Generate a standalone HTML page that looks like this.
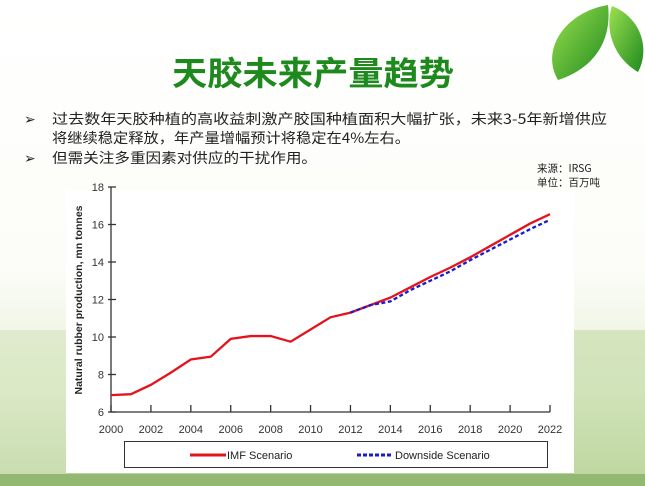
<!DOCTYPE html>
<html><head><meta charset="utf-8"><style>
body{margin:0;width:645px;height:486px;overflow:hidden;background:#fff;font-family:"Liberation Sans","Noto Sans CJK SC",sans-serif;}
</style></head><body>
<svg id="s" width="645" height="486" xmlns="http://www.w3.org/2000/svg" style="position:absolute;left:0;top:0">
<defs>
<linearGradient id="bg" x1="0" y1="0" x2="0" y2="1">
<stop offset="0" stop-color="#fff"/><stop offset="0.55" stop-color="#fcfdf8"/><stop offset="0.8" stop-color="#e6f0d6"/><stop offset="1" stop-color="#b3cf94"/></linearGradient>
<linearGradient id="lf" x1="0" y1="0" x2="1" y2="1"><stop offset="0" stop-color="#9be04f"/><stop offset="1" stop-color="#1e8a1e"/></linearGradient>
</defs>
<rect width="645" height="486" fill="url(#bg)"/>
<rect x="0" y="330" width="66" height="156" fill="#d3e4bd" opacity="0.6"/>
<rect x="574" y="330" width="71" height="156" fill="#c3dba5" opacity="0.6"/>
<rect x="0" y="474" width="645" height="12" fill="#93b872"/>
<path d="M558 80 C 540 50, 565 12, 608 5 C 612 40, 595 68, 558 80Z" fill="url(#lf)"/>
<path d="M612 6 C 642 18, 650 50, 638 72 C 614 58, 604 30, 612 6Z" fill="url(#lf)"/>
<text x="313" y="85" text-anchor="middle" font-size="33" font-weight="bold" fill="#1e8a1e" font-family="'Noto Sans CJK SC',sans-serif" textLength="282" lengthAdjust="spacingAndGlyphs">天胶未来产量趋势</text>
<g font-size="14" fill="#222" font-family="'Noto Sans CJK SC',sans-serif">
<text x="24" y="124">➢</text><text x="52" y="124" textLength="555" lengthAdjust="spacingAndGlyphs">过去数年天胶种植的高收益刺激产胶国种植面积大幅扩张，未来3-5年新增供应</text>
<text x="52" y="143" textLength="358" lengthAdjust="spacingAndGlyphs">将继续稳定释放，年产量增幅预计将稳定在4%左右。</text>
<text x="24" y="163">➢</text><text x="52" y="163" textLength="265" lengthAdjust="spacingAndGlyphs">但需关注多重因素对供应的干扰作用。</text>
</g>
<g font-size="10.5" fill="#222" font-family="'Noto Sans CJK SC',sans-serif">
<text x="537" y="172">来源：IRSG</text><text x="537" y="186">单位：百万吨</text>
</g>
<rect x="66" y="190" width="508" height="283" fill="#fff"/>
<g id="ax" stroke="#333" stroke-width="1.3" fill="none"></g>
<g id="lab" font-size="11" fill="#333"></g>
<text transform="translate(82,300) rotate(-90)" text-anchor="middle" font-size="10.5" font-weight="bold" fill="#222">Natural rubber production, mn tonnes</text>
<polyline id="imf" fill="none" stroke="#e3141c" stroke-width="2.3"/>
<polyline id="dn" fill="none" stroke="#1a1ad0" stroke-width="2.3" stroke-dasharray="4,2.5"/>
<rect x="124.5" y="441.5" width="423" height="26" fill="#fff" stroke="#333"/>
<line x1="190" y1="455" x2="226" y2="455" stroke="#e3141c" stroke-width="3"/>
<text x="227" y="459" font-size="11" fill="#222">IMF Scenario</text>
<line x1="357" y1="455" x2="393" y2="455" stroke="#1a1ad0" stroke-width="3" stroke-dasharray="4,2"/>
<text x="395" y="459" font-size="11" fill="#222">Downside Scenario</text>
</svg>
<script>
var X=y=>111+(y-2000)*439/22, Y=v=>412-(v-6)*18.75;
var ax=document.getElementById('ax'),lab=document.getElementById('lab'),ns='http://www.w3.org/2000/svg';
function el(p,t,a,txt){var e=document.createElementNS(ns,t);for(var k in a)e.setAttribute(k,a[k]);if(txt)e.textContent=txt;p.appendChild(e);}
el(ax,'line',{x1:111,y1:187,x2:111,y2:412});el(ax,'line',{x1:111,y1:412,x2:550,y2:412});
for(var v=6;v<=18;v+=2){el(ax,'line',{x1:108,y1:Y(v),x2:116,y2:Y(v)});el(lab,'text',{x:104,y:Y(v)+4,'text-anchor':'end'},v);}
for(var yr=2000;yr<=2022;yr+=2){el(ax,'line',{x1:X(yr),y1:405,x2:X(yr),y2:412});el(lab,'text',{x:X(yr),y:433,'text-anchor':'middle'},yr);}
var imf=[6.9,6.95,7.45,8.1,8.8,8.95,9.9,10.05,10.05,9.75,10.4,11.05,11.3,11.7,12.1,12.65,13.2,13.7,14.25,14.85,15.45,16.05,16.55];
var dn=[11.3,11.7,11.9,12.5,13.0,13.5,14.1,14.65,15.2,15.75,16.25];
document.getElementById('imf').setAttribute('points',imf.map((v,i)=>X(2000+i)+','+Y(v)).join(' '));
document.getElementById('dn').setAttribute('points',dn.map((v,i)=>X(2012+i)+','+Y(v)).join(' '));
</script>
</body></html>
